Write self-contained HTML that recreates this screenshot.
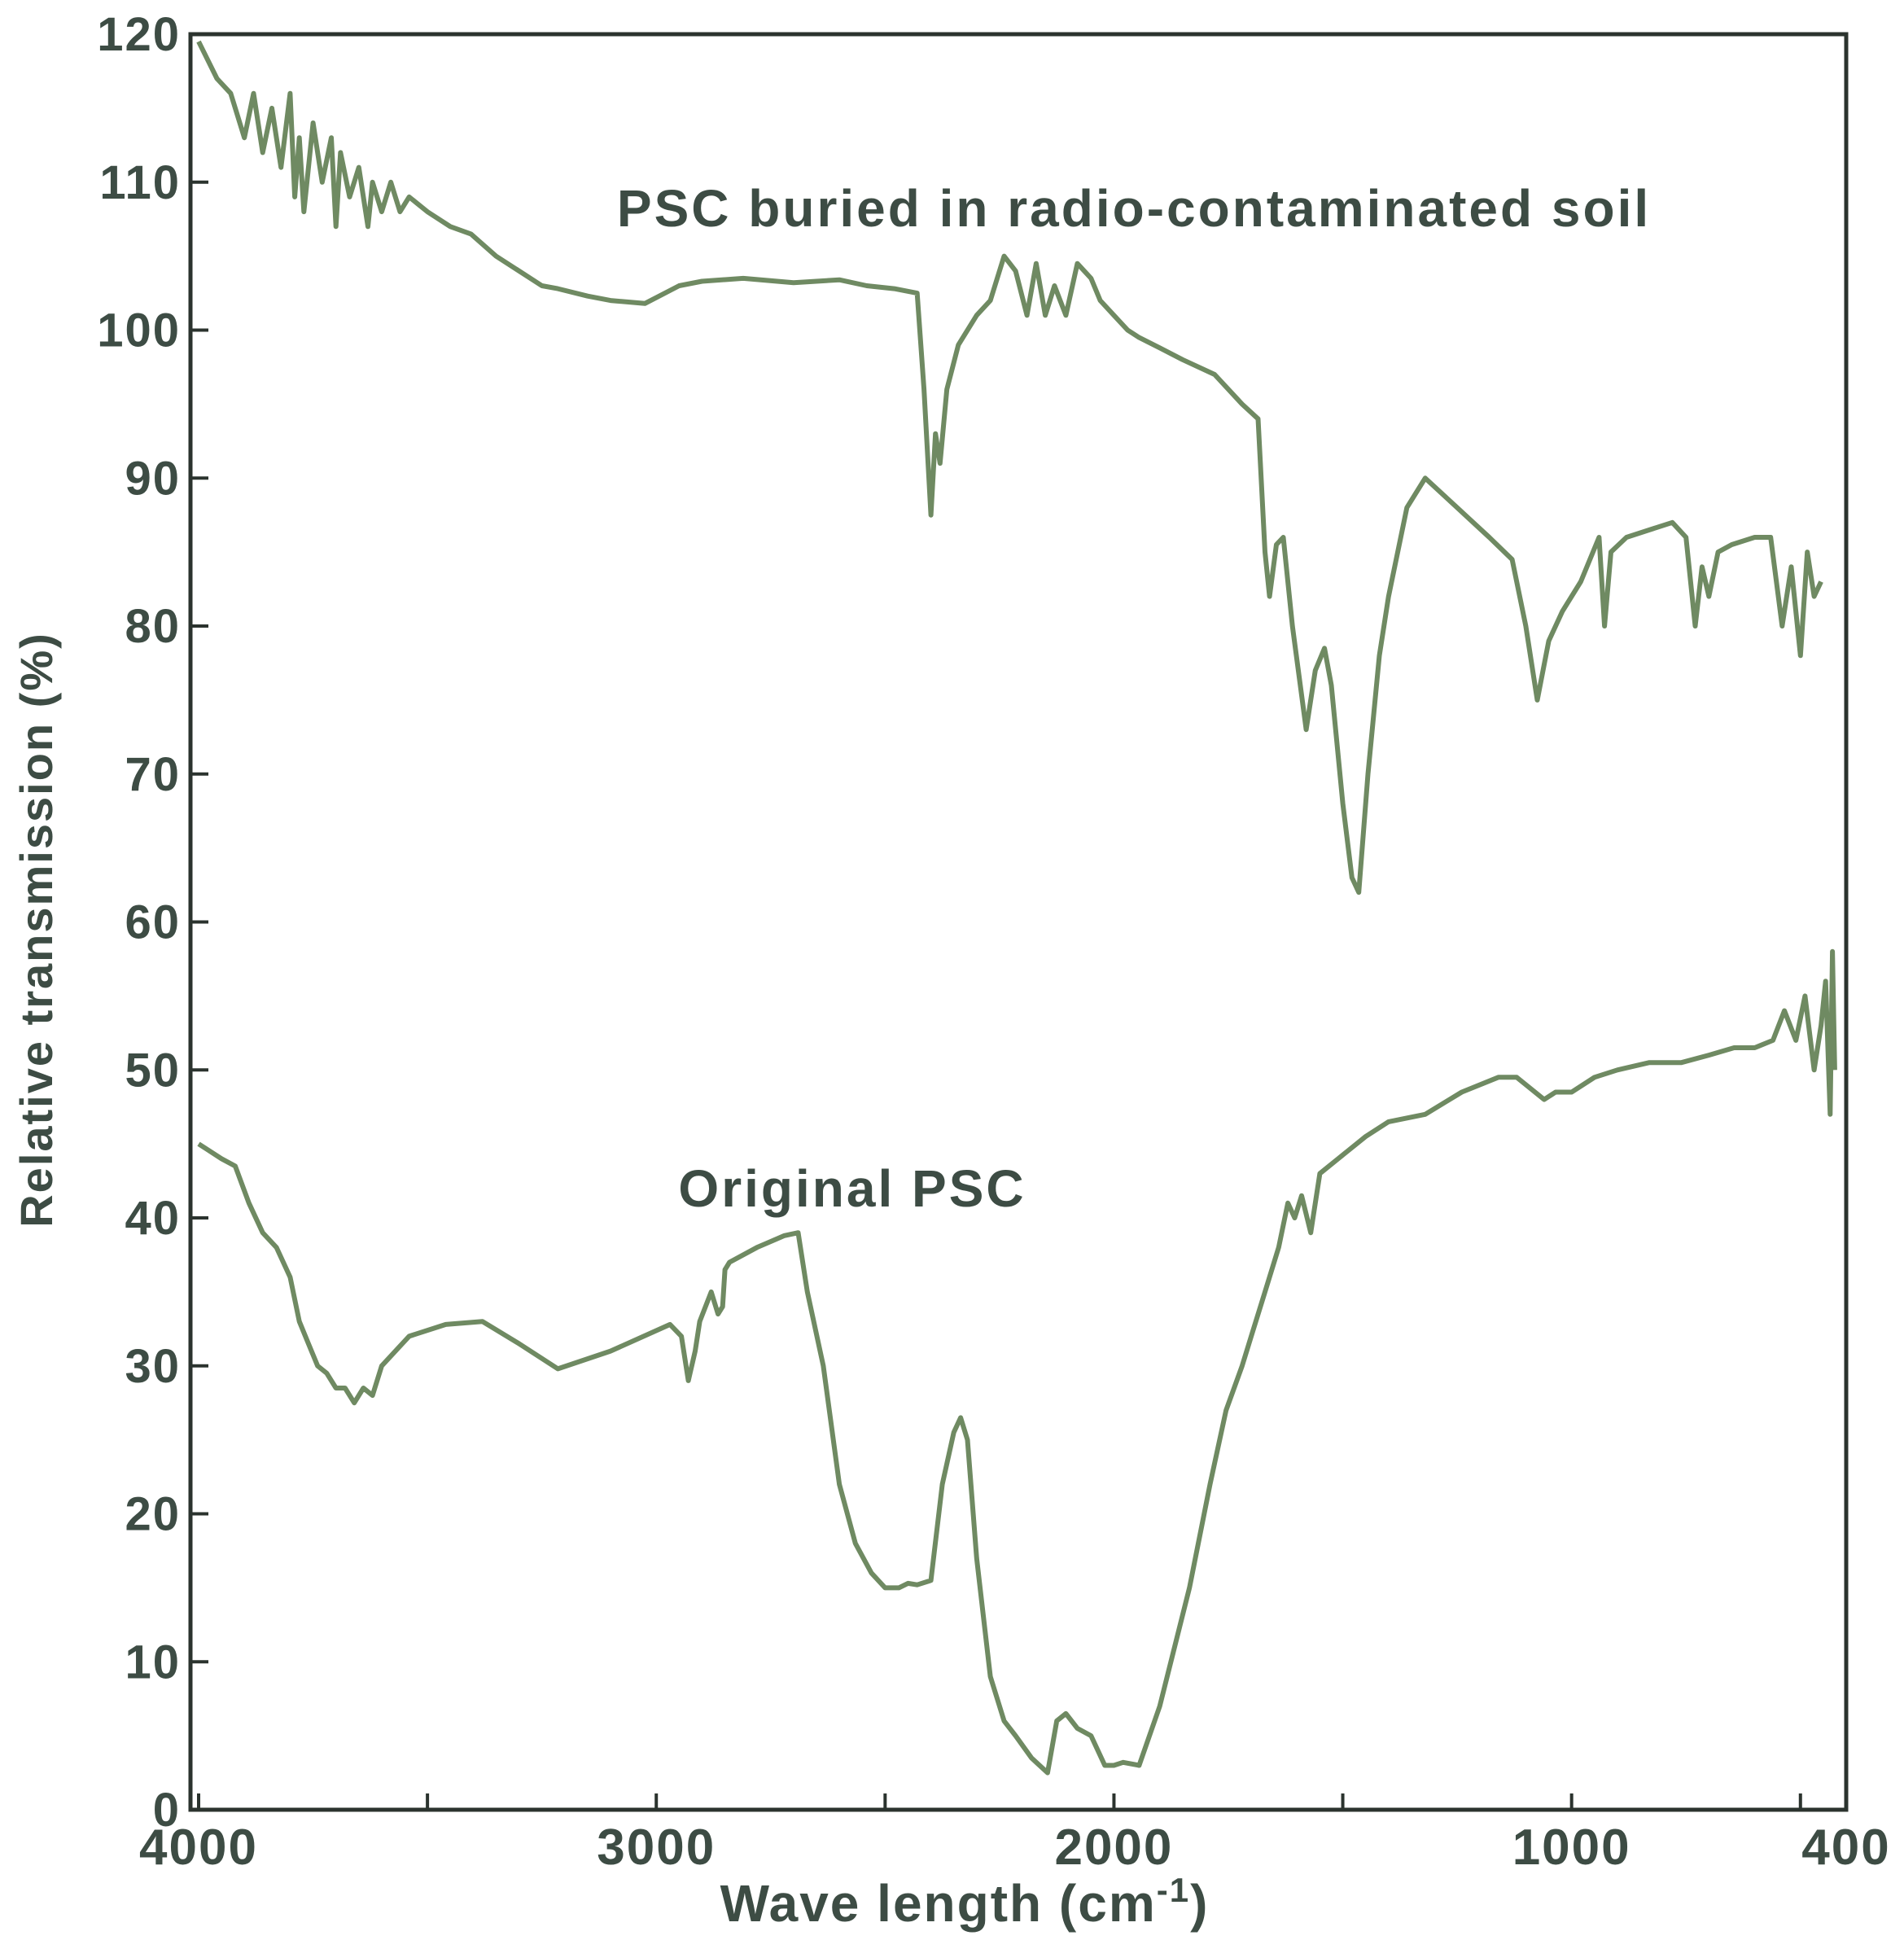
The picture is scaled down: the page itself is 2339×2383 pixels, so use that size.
<!DOCTYPE html>
<html><head><meta charset="utf-8"><style>
html,body{margin:0;padding:0;background:#fff;}
svg{display:block;}
text{font-family:"Liberation Sans",sans-serif;font-weight:bold;fill:#3d4c44;}
</style></head><body>
<svg id="chart" width="2339" height="2383" viewBox="0 0 2339 2383">
<g id="axes"></g>
<g id="series"></g>
<text x="1393" y="278" font-size="64" letter-spacing="3" text-anchor="middle">PSC buried in radio-contaminated soil</text>
<text x="1047" y="1482" font-size="64" letter-spacing="3" text-anchor="middle">Original PSC</text>
<text x="1185" y="2360" font-size="64" letter-spacing="2" text-anchor="middle">Wave length (cm<tspan dy="-24" font-size="42">-1</tspan><tspan dy="24">)</tspan></text>
<text transform="translate(64,1142) rotate(-90)" font-size="56" letter-spacing="2" text-anchor="middle">Relative transmission (%)</text>
</svg>
<script>
const xTicks=[4000,3000,2000,1000,400];
const xMinor=[3500,2500,1500,500];
const yTicks=[0,10,20,30,40,50,60,70,80,90,100,110,120];
const buriedWn=[4000,3960,3930,3900,3880,3860,3840,3820,3800,3790,3780,3770,3750,3730,3710,3700,3690,3670,3650,3630,3620,3600,3580,3560,3540,3500,3450,3405,3350,3300,3250,3215,3150,3100,3025,2950,2900,2810,2700,2600,2540,2480,2430,2415,2400,2390,2380,2365,2340,2300,2270,2240,2215,2190,2170,2150,2130,2105,2080,2050,2030,2000,1970,1945,1900,1850,1780,1720,1685,1670,1660,1645,1630,1610,1580,1560,1540,1525,1500,1480,1465,1445,1420,1400,1360,1320,1250,1180,1130,1100,1075,1050,1020,980,940,928,914,880,830,780,750,730,715,700,680,650,600,565,540,520,500,485,470,455];
const buriedVal=[119.5,117,116,113,116,112,115,111,116,109,113,108,114,110,113,107,112,109,111,107,110,108,110,108,109,108,107,106.5,105,104,103,102.8,102.3,102,101.8,103,103.3,103.5,103.2,103.4,103,102.8,102.5,96,87.5,93,91,96,99,101,102,105,104,101,104.5,101,103,101,104.5,103.5,102,101,100,99.5,98.8,98,97,95,94,85,82,85.5,86,80,73,77,78.5,76,68,63,62,70,78,82,88,90,88,86,84.5,80,75,79,81,83,86,80,85,86,86.5,87,86,80,84,82,85,85.5,86,86,80,84,78,85,82,83];
const origWn=[4000,3950,3920,3890,3860,3830,3800,3780,3760,3740,3720,3700,3680,3660,3640,3620,3600,3540,3460,3380,3300,3215,3100,2970,2945,2930,2915,2905,2880,2865,2855,2850,2840,2780,2720,2690,2670,2635,2600,2565,2530,2500,2470,2450,2430,2400,2375,2350,2335,2320,2300,2270,2240,2215,2180,2145,2125,2105,2080,2050,2020,2000,1980,1945,1900,1835,1790,1755,1720,1700,1670,1640,1620,1605,1590,1570,1550,1510,1450,1400,1320,1240,1160,1120,1060,1035,1000,950,900,830,760,700,645,600,560,535,510,490,470,455,445,435,430,425];
const origVal=[45,44,43.5,41,39,38,36,33,31.5,30,29.5,28.5,28.5,27.5,28.5,28,30,32,32.8,33,31.5,29.8,31,32.8,32,29,31,33,35,33.5,34,36.5,37,38,38.8,39,35,30,22,18,16,15,15,15.3,15.2,15.5,22,25.5,26.5,25,17,9,6,5,3.5,2.5,6,6.5,5.5,5,3,3,3.2,3,7,15,22,27,30,32,35,38,41,40,41.5,39,43,44,45.5,46.5,47,48.5,49.5,49.5,48,48.5,48.5,49.5,50,50.5,50.5,51,51.5,51.5,52,54,52,55,50,53,56,47,58,50];
const X=w=>244+(4000-w)/3600*2024;
const Y=v=>2223-v*(2181/120);
const NS='http://www.w3.org/2000/svg';
const ax=document.getElementById('axes'),sr=document.getElementById('series');
function mk(p,tag,a){const e=document.createElementNS(NS,tag);for(const k in a)e.setAttribute(k,a[k]);p.appendChild(e);return e;}
const frame=mk(ax,'rect',{x:X(4000)-10,y:42,width:X(400)-X(4000)+10,height:2223-42,fill:'none',stroke:'#2b332e','stroke-width':5});


yTicks.forEach(v=>{
 const t=mk(ax,'line',{x1:X(4000)-10,x2:X(4000)+12,y1:Y(v),y2:Y(v),stroke:'#2b332e','stroke-width':4});
 
 
 const l=mk(ax,'text',{x:X(4000)-22,y:Y(v)+20,'font-size':58,'letter-spacing':2,'text-anchor':'end'});l.textContent=v;
 
 
});
xTicks.concat(xMinor).forEach(w=>{
 const t=mk(ax,'line',{x1:X(w),x2:X(w),y1:2223,y2:2203,stroke:'#2b332e','stroke-width':4});
 
 
});
xTicks.forEach(w=>{
 const l=mk(ax,'text',{x:X(w),y:2290,'font-size':62,'letter-spacing':2,'text-anchor':'middle'});l.textContent=w;
 
 
});
function line(wn,val,name){
 const d=wn.map((w,i)=>(i?'L':'M')+X(w).toFixed(1)+','+Y(val[i]).toFixed(1)).join('');
 const p=mk(sr,'path',{d:d,fill:'none',stroke:'#6f8a62','stroke-width':6,'stroke-linejoin':'round'});
 
 
}
line(buriedWn,buriedVal,'buried-psc-line');
line(origWn,origVal,'original-psc-line');
</script>
</body></html>
